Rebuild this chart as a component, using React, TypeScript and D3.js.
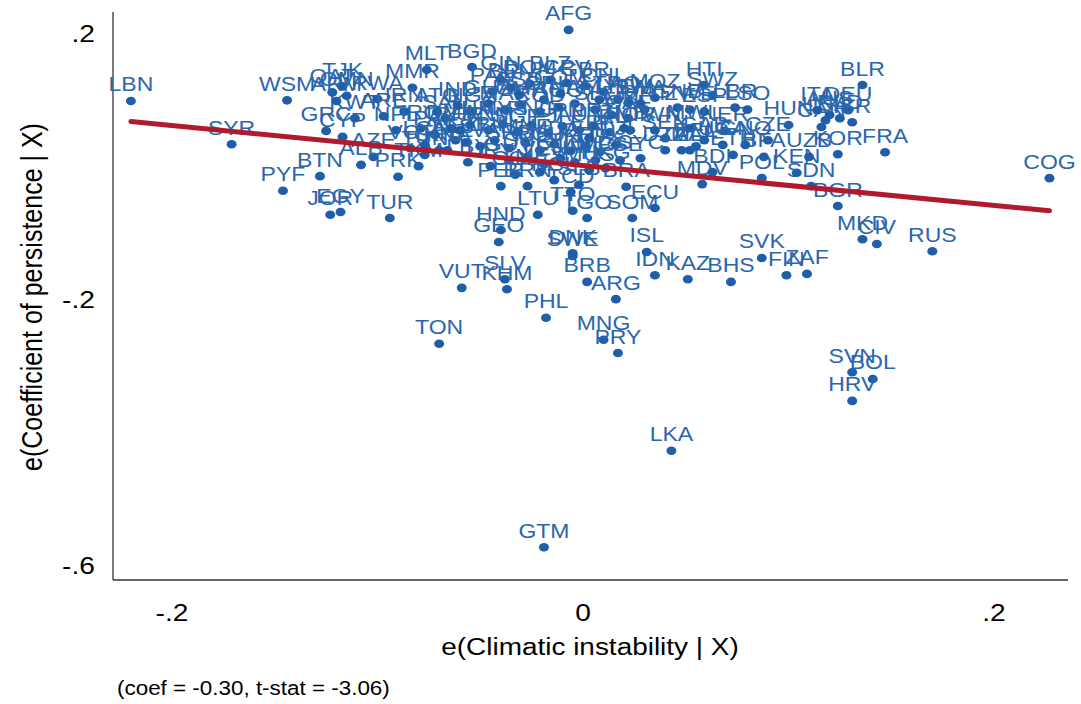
import React from "react";
import * as d3 from "d3";

// Country codes, residualised climatic instability (x) and residualised coefficient of persistence (y)
const labels = [
  "LBN","SYR","WSM","PYF","BTN","JOR","EGY","TUR","GRC","CYP","KWT","TJK","QAT","OMN","ARM","RWA","MMR","MLT","BGD","GIN",
  "NPL","AZE","ALB","PRK","TKM","TUN","LBY","ARE","IRN","IRQ","PAK","SAU","KGZ","LCA","GRD","VCT","DMA",
  "BLR","FRA","COG","RUS","CIV","MKD","BGR","SDN","KEN","POL","UZB","KOR","HUN","CZE","BFA","GNQ","CAN","AUS","NLD","DEU","ISR","USA","ITA",
  "SVK","FIN","ZAF","BHS","KAZ","IDN","ISL","SOM","ECU","BRA","MDV","BDI","SVN","BOL","HRV","LKA","GTM","TON","VUT","SLV","KHM","PHL","MNG","PRY","ARG","BRB","DNK","SWE","GEO","HND","LTU","TTO","TGO","TCD","PER",
  "AFG","YEM","HTI","SWZ","NER","SEN","DZA","MLI","BEL","LSO","ZWE","ESP","LBR","MOZ","GNB","MWI","GAB","TZA","UGA","ETH",
  "PAN","BEN","DOM","BLZ","CPV","GBR","CHL","LAO","CRI","IND","NGA","GHA","MAR","CMR","COD","AGO","NAM","SLE","GMB","CAF","MRT",
  "THA","VNM","MYS","SGP","PNG","FJI","JPN","AUT","PRT","IRL","NOR","EST","LVA","BIH","SRB","MNE","ROU","MDA","UKR","CHE","LUX","DJI","ERI",
  "URY","GUY","SUR","VEN","CUB","JAM","NIC","COL","MEX","BRN","SLB","NCL","MUS","SSD","COM","STP","BWA","ATG","KNA","BHR","PSE","HKG","SYC","ZMB","TWN"
];

const xVals = [
  -0.220,-0.171,-0.144,-0.146,-0.128,-0.123,-0.118,-0.094,-0.125,-0.117,-0.111,-0.117,-0.122,-0.115,-0.120,-0.100,-0.083,-0.076,-0.054,-0.040,
  -0.091,-0.102,-0.108,-0.090,-0.080,-0.077,-0.056,-0.097,-0.087,-0.079,-0.072,-0.067,-0.062,-0.077,-0.070,-0.084,-0.064,
  0.136,0.147,0.227,0.170,0.143,0.136,0.124,0.111,0.104,0.087,0.110,0.124,0.100,0.090,0.088,0.079,0.116,0.120,0.125,0.129,0.131,0.118,0.114,
  0.087,0.099,0.109,0.072,0.051,0.035,0.031,0.024,0.035,0.021,0.058,0.063,0.131,0.141,0.131,0.043,-0.019,-0.070,-0.059,-0.038,-0.037,-0.018,0.010,0.017,0.016,0.002,-0.005,-0.005,-0.041,-0.040,-0.022,-0.005,0.002,-0.006,-0.040,
  -0.007,0.022,0.059,0.063,0.069,0.040,0.040,0.052,0.055,0.080,0.052,0.059,0.074,0.035,0.046,0.052,0.059,0.048,0.068,0.073,
  -0.044,-0.035,-0.026,-0.016,-0.008,0.001,0.010,0.017,-0.019,-0.061,-0.054,-0.046,-0.038,-0.030,-0.021,-0.012,-0.004,0.006,0.014,0.022,0.030,
  -0.055,-0.046,-0.039,-0.032,-0.025,-0.017,-0.010,-0.002,0.005,0.013,0.023,-0.057,-0.050,-0.043,-0.036,-0.028,-0.021,-0.014,-0.006,0.001,0.008,0.016,0.003,
  -0.045,-0.036,-0.027,-0.019,-0.011,-0.004,0.006,-0.033,-0.021,-0.027,-0.002,-0.014,0.003,-0.031,-0.011,0.008,0.028,-0.071,-0.066,-0.060,0.018,0.011,0.028,0.020,0.035
];

const yVals = [
  0.097,0.032,0.098,-0.038,-0.016,-0.074,-0.070,-0.079,0.052,0.043,0.071,0.119,0.110,0.105,0.097,0.100,0.117,0.144,0.148,0.129,
  0.053,0.013,0.001,-0.017,-0.001,0.016,0.005,0.074,0.081,0.056,0.046,0.071,0.038,0.031,0.023,0.026,0.056,
  0.121,0.020,-0.019,-0.129,-0.118,-0.111,-0.061,-0.031,-0.011,-0.019,0.013,0.017,0.061,0.038,0.013,0.031,0.058,0.076,0.071,0.083,0.065,0.068,0.083,
  -0.139,-0.165,-0.163,-0.175,-0.171,-0.165,-0.130,-0.079,-0.064,-0.032,-0.028,-0.010,-0.311,-0.321,-0.354,-0.429,-0.574,-0.268,-0.184,-0.171,-0.186,-0.229,-0.262,-0.282,-0.201,-0.175,-0.132,-0.136,-0.115,-0.097,-0.074,-0.068,-0.079,-0.040,-0.031,
  0.204,0.094,0.121,0.106,0.052,0.041,0.023,0.023,0.029,0.084,0.084,0.081,0.087,0.102,0.087,0.056,0.038,0.023,0.031,0.016,
  0.111,0.117,0.123,0.129,0.124,0.120,0.111,0.099,0.099,0.090,0.081,0.093,0.084,0.091,0.081,0.088,0.093,0.084,0.076,0.071,0.084,
  0.061,0.053,0.062,0.050,0.061,0.049,0.059,0.053,0.059,0.050,0.053,0.035,0.029,0.038,0.026,0.034,0.023,0.032,0.022,0.029,0.020,0.031,0.041,
  -0.001,0.008,0.013,0.002,0.011,0.005,0.008,-0.014,-0.010,-0.031,-0.029,-0.022,-0.007,0.106,0.108,0.099,0.093,0.081,0.023,0.053,0.008,-0.004,0.011,0.056,0.053
];

const xTicks = [-0.2, 0, 0.2];
const xTickLabels = ["-.2", "0", ".2"];
const yTicks = [0.2, -0.2, -0.6];
const yTickLabels = [".2", "-.2", "-.6"];

const coef = -0.30;
const tstat = -3.06;
const intercept = 0;

const FONT = "'Liberation Sans', Arial, Helvetica, sans-serif";
const SX = 1.15;

function T(props: {
  x: number; y: number; size: number; anchor?: string; fill?: string; rotate?: boolean; children: React.ReactNode;
}) {
  const { x, y, size, anchor = "middle", fill = "#000", rotate = false, children } = props;
  return (
    <text
      transform={`translate(${x},${y}) scale(${SX},1)${rotate ? " rotate(-90)" : ""}`}
      textAnchor={anchor}
      fontSize={size}
      fontFamily={FONT}
      fill={fill}
    >
      {children}
    </text>
  );
}

export default function App() {
  const W = 1081, H = 704;
  const x = d3.scaleLinear().domain([-0.2, 0.2]).range([172, 994]);
  const y = d3.scaleLinear().domain([0.2, -0.6]).range([32.5, 564.5]);

  const pts = labels.map((l, i) => ({ l, x: xVals[i], y: yVals[i] }));
  const [xmin, xmax] = d3.extent(xVals) as [number, number];
  const fit = d3.line<number>().x((v) => x(v)).y((v) => y(intercept + coef * v));

  const plotLeft = 113, plotRight = 1068, plotTop = 12, plotBottom = 580;
  const dotColor = "#1f5ea8";
  const labColor = "#2a66ae";

  return (
    <svg width={W} height={H} style={{ position: "absolute", left: 0, top: 0, background: "#fff" }}>
      <rect width={W} height={H} fill="#fff" />
      {/* axes */}
      <line x1={plotLeft} y1={plotTop} x2={plotLeft} y2={plotBottom} stroke="#333" strokeWidth={1.3} />
      <line x1={plotLeft} y1={plotBottom} x2={plotRight} y2={plotBottom} stroke="#333" strokeWidth={1.3} />
      {yTicks.map((t, i) => (
        <T key={"yt" + i} x={95} y={y(t) + 9} size={24.5} anchor="end">{yTickLabels[i]}</T>
      ))}
      {xTicks.map((t, i) => (
        <T key={"xt" + i} x={x(t)} y={621} size={24.5}>{xTickLabels[i]}</T>
      ))}
      <T x={590} y={655} size={24.3}>e(Climatic instability | X)</T>
      <T x={42} y={297} size={25} rotate>e(Coefficient of persistence | X)</T>
      <T x={117} y={695} size={19.5} anchor="start">{`(coef = ${coef.toFixed(2)}, t-stat = ${tstat.toFixed(2)})`}</T>

      {/* points and labels */}
      {pts.map((p, i) => (
        <g key={"p" + i}>
          <ellipse cx={x(p.x)} cy={y(p.y)} rx={5} ry={4.3} fill={dotColor} />
          <T x={x(p.x)} y={y(p.y) - 9.5} size={20} fill={labColor}>{p.l}</T>
        </g>
      ))}

      {/* fitted line */}
      <path d={fit([xmin, xmax]) || ""} fill="none" stroke="#b01a2c" strokeWidth={5} strokeLinecap="round" />
    </svg>
  );
}
